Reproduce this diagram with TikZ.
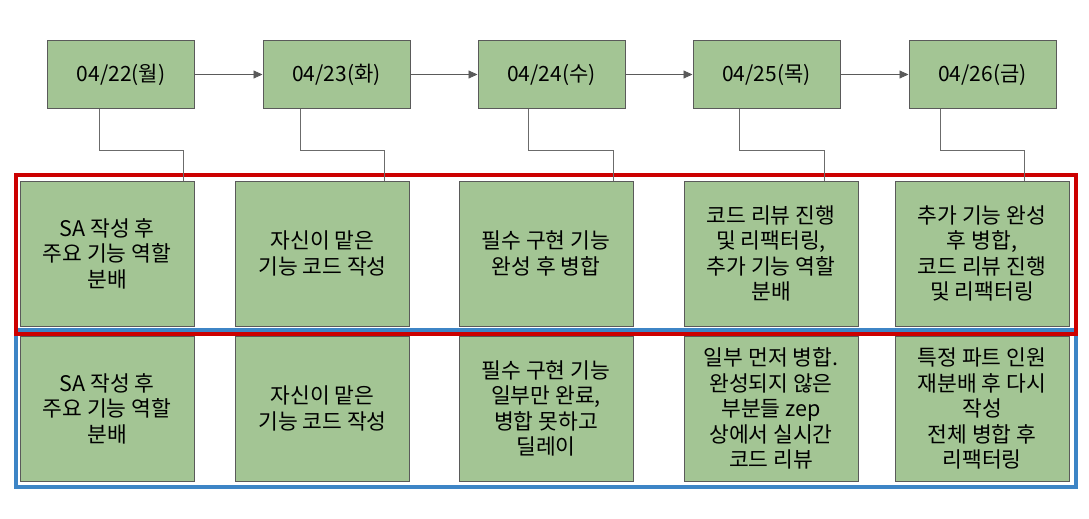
\documentclass[tikz,border=0pt]{standalone}
\usepackage{fontspec}
\setmainfont{Noto Sans CJK KR}
\usepackage{xcolor}
\usepackage{tikz}
\usetikzlibrary{arrows.meta,positioning}

\definecolor{boxgreen}{HTML}{A3C594}
\definecolor{boxline}{HTML}{5A5A5A}
\definecolor{planred}{HTML}{CC0000}
\definecolor{realblue}{HTML}{3D85C6}

\begin{document}
\begin{tikzpicture}[
    x=1pt, y=-1pt,
    datebox/.style={rectangle, draw=boxline, fill=boxgreen, line width=1pt, minimum width=147pt, minimum height=67pt, inner sep=0pt, font=\fontsize{21}{25}\selectfont},
    taskbox/.style={rectangle, draw=boxline, fill=boxgreen, line width=1pt, minimum width=174pt, minimum height=145pt, inner sep=0pt, align=center, font=\fontsize{21.5}{25.5}\selectfont},
    arrow/.style={-{Triangle[length=9pt, width=8pt]}, line width=0.9pt, draw=boxline},
    link/.style={line width=0.9pt, draw=boxline!90}
]
\useasboundingbox (0,0) rectangle (1089,519);

% Frames
\draw[realblue, line width=4pt] (15.5,329.5) rectangle (1076,487);
\draw[planred, line width=4pt] (15.5,175) rectangle (1076,333.5);

% Dates
\node[datebox] (d1) at (121,74.5) {04/22(월)};
\node[datebox] (d2) at (336.5,74.5) {04/23(화)};
\node[datebox] (d3) at (551.5,74.5) {04/24(수)};
\node[datebox] (d4) at (766.5,74.5) {04/25(목)};
\node[datebox] (d5) at (982.5,74.5) {04/26(금)};

% Plan row
\node[taskbox] (p1) at (107,253.5) {SA 작성 후\\주요 기능 역할\\분배};
\node[taskbox] (p2) at (322.5,253.5) {자신이 맡은\\기능 코드 작성};
\node[taskbox] (p3) at (546,253.5) {필수 구현 기능\\완성 후 병합};
\node[taskbox] (p4) at (771,253.5) {코드 리뷰 진행\\및 리팩터링,\\추가 기능 역할\\분배};
\node[taskbox] (p5) at (982,253.5) {추가 기능 완성\\후 병합,\\코드 리뷰 진행\\및 리팩터링};

% Actual row
\node[taskbox] (r1) at (107,408.5) {SA 작성 후\\주요 기능 역할\\분배};
\node[taskbox] (r2) at (322.5,408.5) {자신이 맡은\\기능 코드 작성};
\node[taskbox] (r3) at (546,408.5) {필수 구현 기능\\일부만 완료,\\병합 못하고\\딜레이};
\node[taskbox] (r4) at (771,408.5) {일부 먼저 병합.\\완성되지 않은\\부분들 zep\\상에서 실시간\\코드 리뷰};
\node[taskbox] (r5) at (982,408.5) {특정 파트 인원\\재분배 후 다시\\작성\\전체 병합 후\\리팩터링};

% Edges
\draw[arrow] (d1) -- (d2);
\draw[arrow] (d2) -- (d3);
\draw[arrow] (d3) -- (d4);
\draw[arrow] (d4) -- (d5);

\draw[link] ([xshift=-22pt]d1.south) -- ++(0,42) -| ([xshift=76pt]p1.north);
\draw[link] ([xshift=-36.5pt]d2.south) -- ++(0,42) -| ([xshift=61.5pt]p2.north);
\draw[link] ([xshift=-23.5pt]d3.south) -- ++(0,42) -| ([xshift=67pt]p3.north);
\draw[link] ([xshift=-27.5pt]d4.south) -- ++(0,42) -| ([xshift=53pt]p4.north);
\draw[link] ([xshift=-42.5pt]d5.south) -- ++(0,42) -| ([xshift=42pt]p5.north);

\end{tikzpicture}
\end{document}
